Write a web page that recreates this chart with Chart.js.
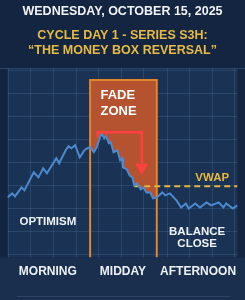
<!DOCTYPE html>
<html>
<head>
<meta charset="utf-8">
<script src="https://cdn.jsdelivr.net/npm/chart.js@4"></script>
<style>
  html, body { margin: 0; padding: 0; background: #142541; }
  #wrap { width: 245px; height: 300px; }
</style>
</head>
<body>
<div id="wrap"><canvas id="fadeChart"></canvas></div>
<script>
// price path (x = time, y = price level)
var priceX = [0, 5, 8, 15, 18, 28, 33, 38, 42, 52, 55, 62, 65, 68, 72, 77, 82, 85, 88, 92, 95,
    100, 103, 105, 108, 110, 113, 117, 120, 122, 123, 127, 130, 133, 135, 138, 142, 145, 148, 152, 155, 159,
    165, 168, 173, 180, 185, 190, 193, 200, 205, 212, 217, 225, 230, 233, 240, 245];
var priceY = [57, 61, 58, 67, 64, 82, 77, 86, 81, 96, 91, 104, 108, 106, 109, 97, 104, 106, 107, 102, 107,
    121, 116, 118, 111, 112, 102, 104, 94, 96, 87, 85, 79, 77, 69, 71, 65, 67, 62, 62, 56, 57,
    62, 59, 61, 54, 47, 51, 46, 51, 47, 52, 49, 52, 47, 51, 46, 49];

var sessionLabels = ['MORNING', 'MIDDAY', 'AFTERNOON'];
var sessionTicks = [43, 123, 203];

var fadeStart = 88;
var fadeEnd = 159;
var fadeTop = 174;
var vwapLevel = 68;
var vwapStart = 135;

var arrowX = [96, 96, 143, 143];
var arrowY = [117, 122, 122, 91];
var arrowTip = {x: 143, y: 87};

var gridX = [1, 25, 49, 73, 97, 121, 145, 170, 194, 218, 242];
var gridY = [0, 23, 46, 69, 92, 115, 138, 161, 184];

var pricePoints = priceX.map((x, i) => ({x: x, y: priceY[i]}));
var fadePoints = pricePoints.filter(p => p.x >= fadeStart && p.x <= fadeEnd);

Chart.defaults.font.family = "'Liberation Sans', Arial, sans-serif";
Chart.defaults.font.weight = 'bold';

// notes written on the chart, in data units
var notes = [
    {text: 'FADE', x: 99, y: 159, size: 13, color: '#ffffff', align: 'left'},
    {text: 'ZONE', x: 99, y: 143, size: 13, color: '#ffffff', align: 'left'},
    {text: 'VWAP', x: 200, y: 77, size: 11.5, color: '#e6b944', align: 'left'},
    {text: 'OPTIMISM', x: 43, y: 33, size: 11.5, color: '#eef2f6', align: 'center'},
    {text: 'BALANCE', x: 202, y: 23, size: 11.5, color: '#eef2f6', align: 'center'},
    {text: 'CLOSE', x: 202, y: 11, size: 11.5, color: '#eef2f6', align: 'center'}
];

var backdrop = {
    id: 'backdrop',
    beforeDraw(chart) {
        const ctx = chart.ctx;
        const a = chart.chartArea;
        ctx.save();
        ctx.fillStyle = '#142541';
        ctx.fillRect(0, 0, chart.width, chart.height);
        ctx.fillStyle = '#1a3253';
        ctx.fillRect(a.left, a.top, a.right - a.left, a.bottom - a.top);
        ctx.fillStyle = '#1a2f4e';
        ctx.fillRect(0, a.bottom, chart.width, chart.height - a.bottom);
        ctx.strokeStyle = '#2c4466';
        ctx.lineWidth = 1;
        ctx.beginPath();
        ctx.moveTo(0, a.top + 0.5);
        ctx.lineTo(chart.width, a.top + 0.5);
        ctx.moveTo(17, chart.height - 3.5);
        ctx.lineTo(230, chart.height - 3.5);
        ctx.stroke();
        ctx.restore();
    }
};

var noteText = {
    id: 'noteText',
    afterDatasetsDraw(chart) {
        const ctx = chart.ctx;
        const xs = chart.scales.x;
        const ys = chart.scales.y;
        ctx.save();
        ctx.textBaseline = 'middle';
        notes.forEach(n => {
            ctx.font = 'bold ' + n.size + "px 'Liberation Sans', Arial, sans-serif";
            ctx.fillStyle = n.color;
            ctx.textAlign = n.align;
            ctx.fillText(n.text, xs.getPixelForValue(n.x), ys.getPixelForValue(n.y));
        });
        ctx.restore();
    }
};

var ctx = document.getElementById('fadeChart');
new Chart(ctx, {
    type: 'line',
    data: {
        datasets: [
            {
                data: arrowX.map((x, i) => ({x: x, y: arrowY[i]})),
                borderColor: '#ff4040',
                borderWidth: 2.5,
                pointRadius: 0,
                fill: false
            },
            {
                data: [arrowTip],
                showLine: false,
                pointStyle: 'triangle',
                rotation: 180,
                pointRadius: 7.5,
                pointBackgroundColor: '#ff4040',
                pointBorderColor: '#ff4040',
                pointBorderWidth: 0
            },
            {
                data: pricePoints,
                borderColor: '#4c8ad0',
                borderWidth: 2,
                pointRadius: 0,
                tension: 0,
                fill: false
            },
            {
                data: [{x: vwapStart, y: vwapLevel}, {x: 245, y: vwapLevel}],
                borderColor: '#e3b43f',
                borderWidth: 2,
                borderDash: [6, 4],
                pointRadius: 0,
                fill: false
            },
            {
                data: [{x: fadeStart, y: -3}, {x: fadeStart, y: fadeTop}, {x: fadeEnd, y: fadeTop}, {x: fadeEnd, y: -3}],
                borderColor: '#e2862c',
                borderWidth: 2,
                pointRadius: 0,
                fill: false
            },
            {
                data: fadePoints,
                borderWidth: 0,
                pointRadius: 0,
                backgroundColor: '#b5522f',
                fill: {value: fadeTop}
            }
        ]
    },
    options: {
        responsive: true,
        maintainAspectRatio: false,
        animation: false,
        layout: {padding: {left: 0, right: 0, top: 0, bottom: 14}},
        plugins: {
            legend: {display: false},
            tooltip: {enabled: false},
            title: {
                display: true,
                text: 'WEDNESDAY, OCTOBER 15, 2025',
                color: '#f1f3f6',
                font: {size: 12.5, weight: 'bold', lineHeight: 1.2},
                padding: {top: 4.5, bottom: 9}
            },
            subtitle: {
                display: true,
                text: ['CYCLE DAY 1 - SERIES S3H:', '\u201CTHE MONEY BOX REVERSAL\u201D'],
                color: '#e8bb45',
                font: {size: 12.5, weight: 'bold', lineHeight: 1.2},
                padding: {top: 0, bottom: 9.5}
            }
        },
        scales: {
            x: {
                type: 'linear',
                min: 0,
                max: 245,
                grid: {display: false, drawTicks: false},
                border: {display: false},
                afterBuildTicks: (scale) => {
                    scale.ticks = sessionTicks.map(v => ({value: v}));
                },
                ticks: {
                    autoSkip: false,
                    maxRotation: 0,
                    padding: 7,
                    color: '#eef2f6',
                    font: {size: 12, weight: 'bold'},
                    callback: (value) => sessionLabels[sessionTicks.indexOf(value)]
                }
            },
            x2: {
                type: 'linear',
                position: 'top',
                min: 0,
                max: 245,
                border: {display: false},
                grid: {color: 'rgba(95,135,185,0.22)', drawTicks: false},
                afterBuildTicks: (scale) => {
                    scale.ticks = gridX.map(v => ({value: v}));
                },
                ticks: {display: false}
            },
            y: {
                type: 'linear',
                min: -3,
                max: 186,
                border: {display: false},
                grid: {color: 'rgba(95,135,185,0.22)', drawTicks: false},
                afterBuildTicks: (scale) => {
                    scale.ticks = gridY.map(v => ({value: v}));
                },
                ticks: {display: false}
            }
        }
    },
    plugins: [backdrop, noteText]
});
</script>
</body>
</html>
